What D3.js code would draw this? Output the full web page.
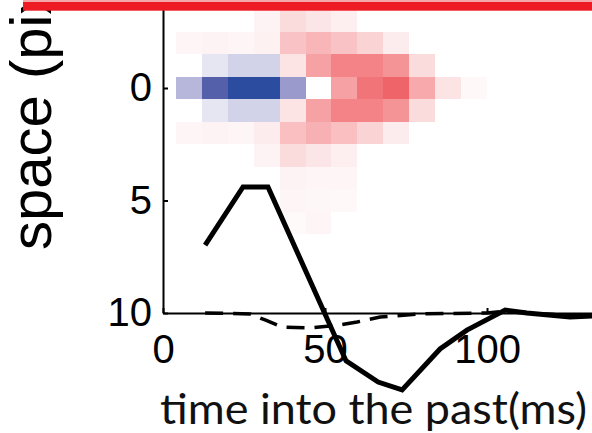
<!DOCTYPE html>
<html>
<head>
<meta charset="utf-8">
<script src="https://cdn.jsdelivr.net/npm/d3@7"></script>
<style>
  html, body { margin: 0; padding: 0; background: #fff; }
  svg { display: block; }
</style>
</head>
<body>
<svg id="chart" width="592" height="433"></svg>
<script>
// ---- data ----
const timeCols = [8, 16, 24, 32, 40, 48, 56, 64, 72, 80, 88, 96];      // ms (bin centres, 8 ms bins)
const spaceRows = [-3, -2, -1, 0, 1, 2, 3, 4, 5, 6];                  // pixels
const weights = [
  [0, 0, 0, 0.05, 0.15, 0.11, 0.07, 0, 0, 0, 0, 0],
  [0.04, 0.05, 0.04, 0.06, 0.30, 0.36, 0.30, 0.20, 0.08, 0, 0, 0],
  [0, -0.15, -0.30, -0.30, 0.12, 0.45, 0.60, 0.60, 0.52, 0.15, 0, 0],
  [-0.42, -0.80, -1.00, -1.00, -0.55, 0, 0.45, 0.70, 0.80, 0.42, 0.12, 0.03],
  [0, -0.15, -0.30, -0.30, 0.12, 0.45, 0.60, 0.60, 0.52, 0.15, 0, 0],
  [0.04, 0.05, 0.04, 0.08, 0.32, 0.38, 0.32, 0.20, 0.08, 0, 0, 0],
  [0, 0, 0, 0.05, 0.15, 0.11, 0.07, 0, 0, 0, 0, 0],
  [0, 0, 0, 0, 0.05, 0.04, 0.04, 0, 0, 0, 0, 0],
  [0, 0, 0, 0, 0.04, 0.035, 0.03, 0, 0, 0, 0, 0],
  [0, 0, 0, 0, 0.02, 0.04, 0, 0, 0, 0, 0, 0]
];
// solid temporal kernel (time ms, value in axis units)
const solidT = [13, 24.7, 32.4, 56.5, 66.4, 73.8, 85.5, 93.8, 105.6, 112.3, 125.6, 132.4];
const solidV = [6.98, 4.4, 4.4, 12.13, 13.07, 13.42, 11.6, 10.76, 9.87, 10.0, 10.18, 10.13];
// dashed temporal kernel
const dashT = [13, 26.9, 31.5, 36.7, 45.4, 54.6, 59.9, 67, 79.3, 100, 105.6, 116.4, 132.4];
const dashV = [10, 10.04, 10.31, 10.62, 10.67, 10.53, 10.4, 10.18, 10.04, 10, 9.91, 10.04, 10.13];
const xTicks = [0, 50, 100];
const yTicks = [0, 5, 10];
const xLabel = "time into the past(ms)";
const yLabel = "space (pixels)";

// ---- scales ----
const svg = d3.select("#chart");
const x = d3.scaleLinear().domain([0, 132.4]).range([163, 592]);
const y = d3.scaleLinear().domain([-3.5, 10]).range([9.25, 313]);
const color = d3.scaleLinear()
  .domain([-1, -0.8, -0.55, -0.3, -0.15, 0, 0.15, 0.3, 0.45, 0.6, 0.8])
  .range(["#2c4d9f", "#5560aa", "#9a9acc", "#d2d2e8", "#e6e6f3", "#ffffff",
          "#fbdcdd", "#f9c3c5", "#f6a2a5", "#f38387", "#ef6468"])
  .clamp(true);

// ---- heatmap ----
const cells = [];
spaceRows.forEach((s, i) => timeCols.forEach((t, j) => cells.push({ s, t, v: weights[i][j] })));
svg.append("g").selectAll("rect").data(cells).join("rect")
  .attr("x", d => x(d.t - 4))
  .attr("y", d => y(d.s - 0.5))
  .attr("width", d => x(d.t + 4) - x(d.t - 4))
  .attr("height", d => y(d.s + 0.5) - y(d.s - 0.5))
  .attr("fill", d => color(d.v))
  .attr("shape-rendering", "crispEdges");

// ---- axes ----
const fontTicks = "'Liberation Sans', Arial, sans-serif";
const yAxis = d3.axisLeft(y).tickValues(yTicks).tickSize(-5).tickSizeOuter(0).tickPadding(11);
const gy = svg.append("g").attr("transform", "translate(163,0)").call(yAxis);
const xAxis = d3.axisBottom(x).tickValues(xTicks).tickSize(-5).tickSizeOuter(0).tickPadding(22);
const gx = svg.append("g").attr("transform", "translate(0,313)").call(xAxis);
[gy, gx].forEach(g => {
  g.select(".domain").attr("stroke", "#000").attr("stroke-width", 2);
  g.selectAll(".tick line").attr("stroke", "#000").attr("stroke-width", 2);
  g.selectAll(".tick text").attr("fill", "#000")
    .style("font-family", fontTicks).style("font-size", "40px");
});

// ---- curves ----
const line = d3.line().x(d => x(d[0])).y(d => y(d[1]));
svg.append("path")
  .datum(dashT.map((t, i) => [t, dashV[i]]))
  .attr("d", line)
  .attr("fill", "none").attr("stroke", "#000")
  .attr("stroke-width", 3.5)
  .attr("stroke-dasharray", "18,10");
svg.append("path")
  .datum(solidT.map((t, i) => [t, solidV[i]]))
  .attr("d", line)
  .attr("fill", "none").attr("stroke", "#000")
  .attr("stroke-width", 5)
  .attr("stroke-linejoin", "miter");

// ---- labels ----
svg.append("text")
  .attr("transform", "translate(51,250) rotate(-90)")
  .attr("text-anchor", "start")
  .style("font-family", fontTicks).style("font-size", "58px")
  .attr("fill", "#000")
  .text(yLabel);
svg.append("text")
  .attr("x", 160).attr("y", 424)
  .attr("textLength", 427).attr("lengthAdjust", "spacingAndGlyphs")
  .style("font-family", "Lato, 'Open Sans', sans-serif").style("font-size", "42px")
  .attr("fill", "#111")
  .text(xLabel);

// ---- red frame edge at top ----
svg.append("rect").attr("x", 23).attr("y", 0).attr("width", 580).attr("height", 2)
  .attr("fill", "#f5a8ab");
svg.append("rect").attr("x", 23).attr("y", 2).attr("width", 580).attr("height", 8.7)
  .attr("fill", "#ed1c24");
</script>
</body>
</html>
